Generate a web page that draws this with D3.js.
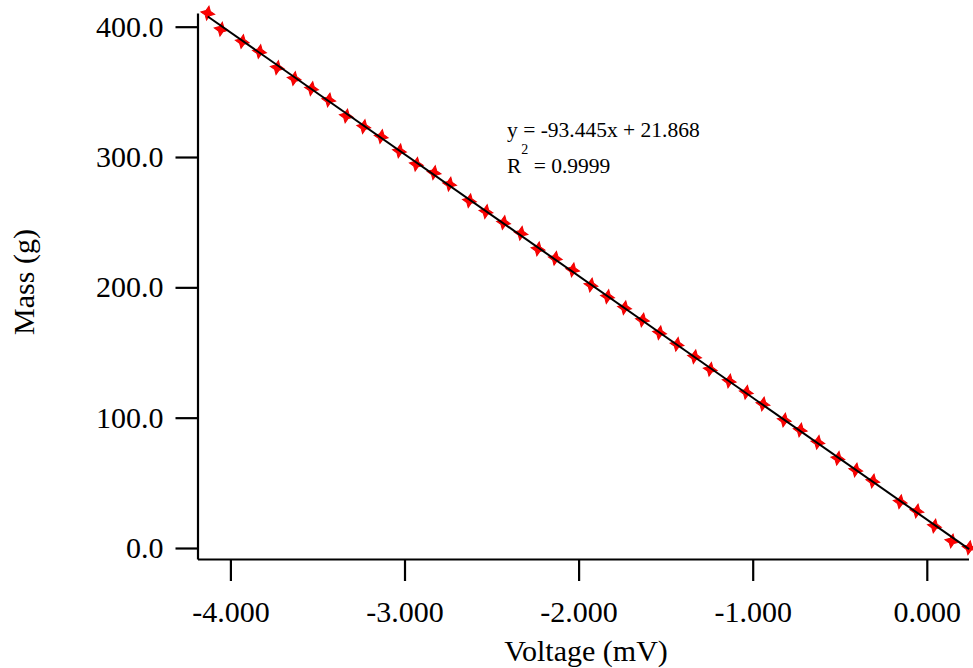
<!DOCTYPE html>
<html>
<head>
<meta charset="utf-8">
<script src="https://cdn.jsdelivr.net/npm/d3@7/dist/d3.min.js"></script>
<style>
  html, body { margin: 0; padding: 0; background: #fff; }
  svg { display: block; }
  text { font-family: "Liberation Serif", "Times New Roman", serif; fill: #000; }
</style>
</head>
<body>
<svg id="chart" width="973" height="668"></svg>
<script>
// ---- data ----
const voltage = [-4.130, -4.053, -3.932, -3.833, -3.731, -3.634, -3.534, -3.435, -3.334, -3.234,
  -3.134, -3.029, -2.932, -2.830, -2.741, -2.627, -2.532, -2.431, -2.331, -2.233,
  -2.134, -2.034, -1.929, -1.834, -1.736, -1.633, -1.535, -1.435, -1.334, -1.244,
  -1.135, -1.037, -0.941, -0.819, -0.727, -0.626, -0.511, -0.408, -0.310, -0.153,
  -0.057, 0.044, 0.144, 0.243];
const mass = [410.4, 398.1, 388.6, 380.9, 368.6, 360.2, 352.5, 343.8, 331.5, 323.3,
  315.7, 304.7, 294.5, 288.0, 279.2, 266.5, 258.1, 249.7, 241.5, 229.5,
  222.3, 213.4, 201.8, 192.9, 184.4, 175.0, 165.2, 156.3, 146.8, 137.1,
  128.2, 119.5, 110.5, 98.2, 90.6, 81.1, 68.8, 59.9, 51.4, 35.5,
  28.4, 16.9, 5.4, 0.2];
const fitSlope = -93.445;
const fitIntercept = 21.868;
const xTicks = [-4, -3, -2, -1, 0];
const yTicks = [0, 100, 200, 300, 400];
const xTitle = "Voltage (mV)";
const yTitle = "Mass (g)";
const eqLine = "y = -93.445x + 21.868";
const r2Value = "0.9999";

// ---- layout ----
const svg = d3.select("#chart");
const mLeft = 197.5, mRight = 968.5, mTop = 13, mBottom = 559;

const x = d3.scaleLinear().domain([-4.189, 0.2395]).range([mLeft, mRight]);
const y = d3.scaleLinear().domain([-8.44, 410.5]).range([mBottom, mTop]);

// axes
const xAxis = d3.axisBottom(x).tickValues(xTicks).tickSize(22).tickSizeOuter(0)
  .tickPadding(20).tickFormat(d => d.toFixed(3));
const yAxis = d3.axisLeft(y).tickValues(yTicks).tickSize(22).tickSizeOuter(0)
  .tickPadding(12).tickFormat(d => d.toFixed(1));

const gx = svg.append("g").attr("transform", `translate(0,${mBottom})`).call(xAxis);
const gy = svg.append("g").attr("transform", `translate(${mLeft},0)`).call(yAxis);

[gx, gy].forEach(g => {
  g.select(".domain").attr("stroke", "#000").attr("stroke-width", 2.2);
  g.selectAll(".tick line").attr("stroke", "#000").attr("stroke-width", 2.2);
  g.selectAll(".tick text").attr("font-family", "Liberation Serif, serif")
    .attr("font-size", 30).attr("fill", "#000");
});

// axis titles
svg.append("text").attr("x", 586).attr("y", 661).attr("text-anchor", "middle")
  .attr("font-size", 30).text(xTitle);
svg.append("text").attr("transform", "translate(34,282) rotate(-90)")
  .attr("text-anchor", "middle").attr("font-size", 30).text(yTitle);

// markers: 4-point concave star
const ro = 7, ri = 3.2;
function starPath() {
  const pts = [];
  for (let i = 0; i < 8; i++) {
    const a = Math.PI / 4 * i - Math.PI / 2;
    const r = i % 2 === 0 ? ro : ri;
    pts.push([r * Math.cos(a), r * Math.sin(a)]);
  }
  return "M" + pts.map(p => p[0].toFixed(2) + "," + p[1].toFixed(2)).join("L") + "Z";
}
const sp = starPath();
svg.append("g").selectAll("path").data(voltage.map((v, i) => [v, mass[i]]))
  .join("path")
  .attr("d", sp)
  .attr("transform", d => `translate(${x(d[0])},${y(d[1])}) rotate(10)`)
  .attr("fill", "#ff0000").attr("stroke", "#ee0000").attr("stroke-width", 1);

// fit line
const xMin = d3.min(voltage), xMax = d3.max(voltage);
svg.append("line")
  .attr("x1", x(xMin)).attr("y1", y(fitSlope * xMin + fitIntercept))
  .attr("x2", x(xMax)).attr("y2", y(fitSlope * xMax + fitIntercept))
  .attr("stroke", "#000").attr("stroke-width", 2);

// equation annotation
svg.append("text").attr("x", 507).attr("y", 137).style("font-size", "21.5px").text(eqLine);
const t2 = svg.append("text").attr("x", 507).attr("y", 173).style("font-size", "21.5px");
t2.append("tspan").text("R");
t2.append("tspan").style("font-size", "14px").attr("dy", -19).text("2");
t2.append("tspan").attr("dy", 19).style("font-size", "21.5px").text(" = " + r2Value);
</script>
</body>
</html>
